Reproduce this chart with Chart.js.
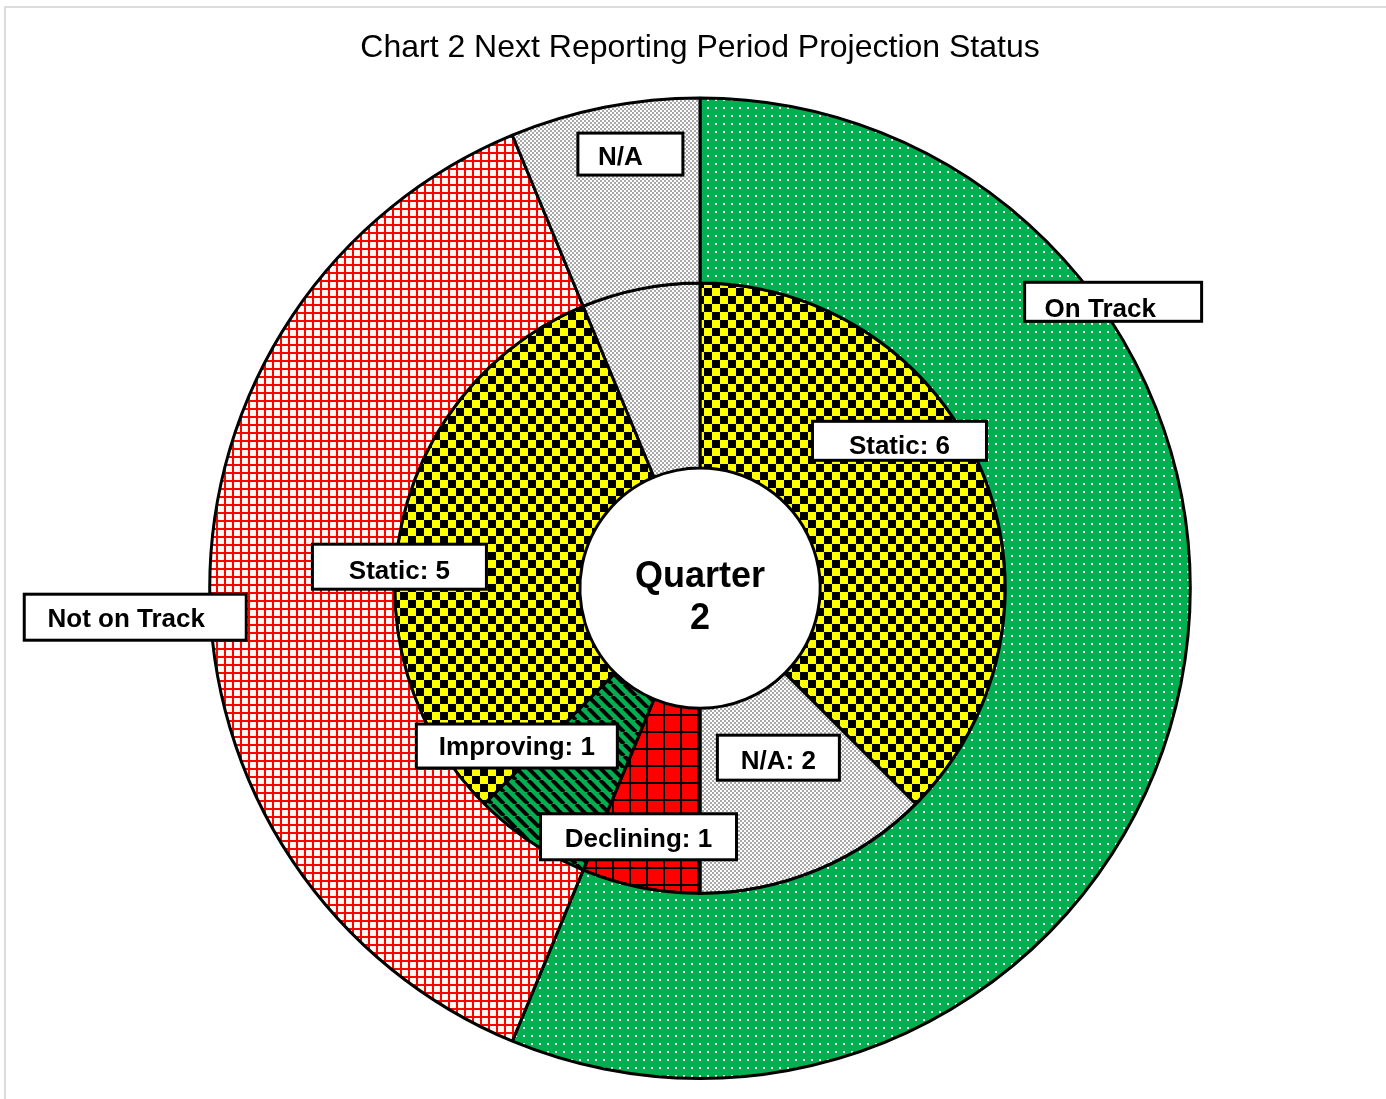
<!DOCTYPE html>
<html>
<head>
<meta charset="utf-8">
<title>Chart 2 Next Reporting Period Projection Status</title>
<script src="https://cdn.jsdelivr.net/npm/chart.js@4.4.1/dist/chart.umd.min.js"></script>
<style>
  html, body { margin: 0; padding: 0; background: #fff; overflow: hidden; }
  #wrap { position: relative; width: 1386px; height: 1099px; }
  #frame {
    position: absolute; left: 4px; top: 6px; width: 2000px; height: 2000px;
    border-left: 2px solid #dcdcdc; border-top: 2px solid #dcdcdc;
  }
  #chart { position: absolute; left: 0; top: 0; }
</style>
</head>
<body>
<div id="wrap">
  <div id="frame"></div>
  <canvas id="chart" width="1386" height="1099"></canvas>
</div>
<script>
// ---- data ----
const chartTitle = 'Chart 2 Next Reporting Period Projection Status';
const centreText = ['Quarter', '2'];

// outer ring: current status
const outerLabels = ['On Track', 'Not on Track', 'N/A'];
const outerValues = [9, 6, 1];

// inner ring: projection for next period
const innerLabels = ['Static', 'N/A', 'Declining', 'Improving', 'Static', 'N/A'];
const innerValues = [6, 2, 1, 1, 5, 1];

const FONT = '"Liberation Sans", Arial, Helvetica, sans-serif';

// ---- fill patterns ----
function makePattern(w, h, draw) {
  const tile = document.createElement('canvas');
  tile.width = w;
  tile.height = h;
  draw(tile.getContext('2d'), w, h);
  return document.createElement('canvas').getContext('2d').createPattern(tile, 'repeat');
}

const patterns = {
  // green with small white dots
  onTrack: makePattern(8, 8, (g) => {
    g.fillStyle = '#00b050'; g.fillRect(0, 0, 8, 8);
    g.fillStyle = '#ffffff'; g.fillRect(3, 3, 2, 2);
  }),
  // white with red small grid
  notOnTrack: makePattern(8, 8, (g) => {
    g.fillStyle = '#fff6f6'; g.fillRect(0, 0, 8, 8);
    g.fillStyle = '#ff0000';
    g.fillRect(0, 0, 8, 2);
    g.fillRect(0, 0, 2, 8);
  }),
  // grey fine checker
  na: makePattern(4, 4, (g) => {
    g.fillStyle = '#ffffff'; g.fillRect(0, 0, 4, 4);
    g.fillStyle = '#a8a8a8';
    g.fillRect(0, 0, 2, 2);
    g.fillRect(2, 2, 2, 2);
  }),
  // yellow / black checkerboard
  static: makePattern(16, 16, (g) => {
    g.fillStyle = '#ffff00'; g.fillRect(0, 0, 16, 16);
    g.fillStyle = '#000000';
    g.fillRect(0, 0, 8, 8);
    g.fillRect(8, 8, 8, 8);
  }),
  // green with black downward diagonals
  improving: makePattern(12, 12, (g) => {
    g.fillStyle = '#00b050'; g.fillRect(0, 0, 12, 12);
    g.strokeStyle = '#000000';
    g.lineWidth = 4;
    [-12, 0, 12].forEach(o => {
      g.beginPath();
      g.moveTo(o, 0);
      g.lineTo(o + 12, 12);
      g.stroke();
    });
  }),
  // red with black grid
  declining: makePattern(17, 17, (g) => {
    g.fillStyle = '#ff0000'; g.fillRect(0, 0, 17, 17);
    g.fillStyle = '#000000';
    g.fillRect(0, 0, 17, 2);
    g.fillRect(0, 0, 2, 17);
  })
};

const fillByName = {
  'On Track': patterns.onTrack,
  'Not on Track': patterns.notOnTrack,
  'N/A': patterns.na,
  'Static': patterns.static,
  'Improving': patterns.improving,
  'Declining': patterns.declining
};

// ---- label boxes (offsets from each slice's centre point) ----
const outerLabelLayout = [
  { dx: 23, dy: -364, w: 177, h: 39, ty: 8, align: 'left' },
  { dx: -167, dy: 29, w: 222, h: 46, tx: -9, ty: 3 },
  { dx: 8, dy: -44, w: 105, h: 42, tx: -10, ty: 4 }
];
const innerLabelLayout = [
  { dx: 3, dy: -66, w: 174, h: 39, ty: 6 },
  { dx: -3, dy: -27, w: 122, h: 45, ty: 4 },
  { dx: -20, dy: 40, w: 196, h: 46, ty: 3 },
  { dx: -65, dy: -19, w: 201, h: 44, ty: 2 },
  { dx: -92, dy: 20, w: 174, h: 45, ty: 5 },
  null
];

const labelBoxes = {
  id: 'labelBoxes',
  afterDatasetsDraw(chart) {
    const ctx = chart.ctx;
    const layouts = [outerLabelLayout, innerLabelLayout];
    const texts = [
      outerLabels,
      innerLabels.map((l, i) => `${l}: ${innerValues[i]}`)
    ];
    ctx.save();
    ctx.font = `bold 26px ${FONT}`;
    ctx.textBaseline = 'middle';
    layouts.forEach((layout, d) => {
      chart.getDatasetMeta(d).data.forEach((arc, i) => {
        const lay = layout[i];
        if (!lay) return;
        const p = arc.tooltipPosition();
        const cx = p.x + lay.dx;
        const cy = p.y + lay.dy;
        ctx.fillStyle = '#ffffff';
        ctx.fillRect(cx - lay.w / 2, cy - lay.h / 2, lay.w, lay.h);
        ctx.strokeStyle = '#000000';
        ctx.lineWidth = 3;
        ctx.strokeRect(cx - lay.w / 2, cy - lay.h / 2, lay.w, lay.h);
        ctx.fillStyle = '#000000';
        if (lay.align === 'left') {
          ctx.textAlign = 'left';
          ctx.fillText(texts[d][i], cx - lay.w / 2 + 20, cy + (lay.ty || 0));
        } else {
          ctx.textAlign = 'center';
          ctx.fillText(texts[d][i], cx + (lay.tx || 0), cy + (lay.ty || 0));
        }
      });
    });
    ctx.restore();
  }
};

const centreLabel = {
  id: 'centreLabel',
  afterDatasetsDraw(chart) {
    const arc = chart.getDatasetMeta(1).data[0];
    if (!arc) return;
    const ctx = chart.ctx;
    ctx.save();
    ctx.font = `bold 36px ${FONT}`;
    ctx.fillStyle = '#000000';
    ctx.textAlign = 'center';
    ctx.textBaseline = 'middle';
    ctx.fillText(centreText[0], arc.x, arc.y - 11);
    ctx.fillText(centreText[1], arc.x, arc.y + 31);
    ctx.restore();
  }
};

new Chart(document.getElementById('chart'), {
  type: 'doughnut',
  data: {
    labels: innerLabels,
    datasets: [{
      label: 'Current status',
      data: outerValues,
      backgroundColor: outerLabels.map(l => fillByName[l]),
      borderColor: '#000000',
      borderWidth: 3
    }, {
      label: 'Projection',
      data: innerValues,
      backgroundColor: innerLabels.map(l => fillByName[l]),
      borderColor: '#000000',
      borderWidth: 3
    }]
  },
  options: {
    responsive: false,
    animation: false,
    events: [],
    cutout: '24.5%',
    hoverOffset: 0,
    layout: { padding: { left: 14, right: 0, top: 0, bottom: 19 } },
    plugins: {
      legend: { display: false },
      tooltip: { enabled: false },
      title: {
        display: true,
        text: chartTitle,
        color: '#000000',
        font: { family: FONT, size: 32, weight: 'normal' },
        padding: { top: 29, bottom: 29 }
      }
    }
  },
  plugins: [labelBoxes, centreLabel]
});
</script>
</body>
</html>
